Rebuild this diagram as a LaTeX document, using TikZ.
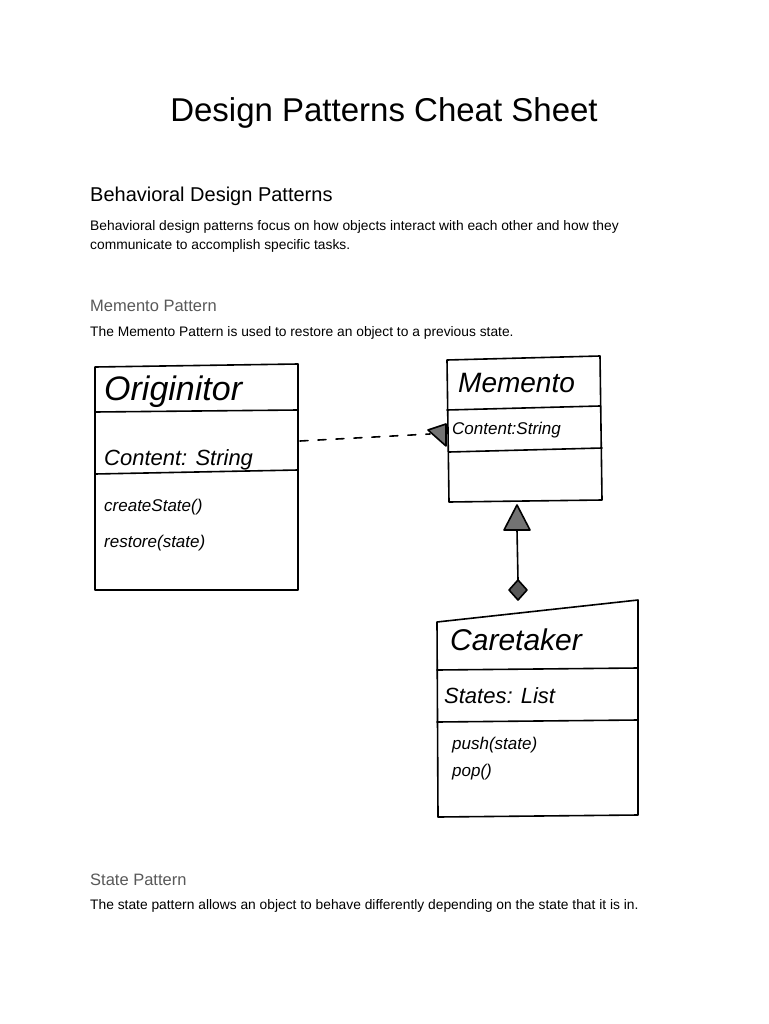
\documentclass[tikz,border=0pt]{standalone}
\usepackage{fontspec}
\setmainfont{Liberation Sans}
\usetikzlibrary{arrows.meta}
\begin{document}
\begin{tikzpicture}[x=1pt,y=-1pt,
  hand/.style={line width=1.6pt,line cap=round,line join=round},
  hw/.style={anchor=west,font=\fontsize{22}{24}\selectfont\itshape,inner sep=0pt},
  hws/.style={anchor=west,font=\fontsize{17}{20}\selectfont\itshape,inner sep=0pt},
  body/.style={anchor=west,font=\fontsize{13.8}{16}\selectfont,inner sep=0pt}]
\useasboundingbox[fill=white] (0,0) rectangle (768,1024);
\node[font=\fontsize{33}{38}\selectfont] (title) at (384,113) {Design Patterns Cheat Sheet};
\node[anchor=west,font=\fontsize{20}{24}\selectfont,inner sep=0pt] (h1) at (90,196) {Behavioral Design Patterns};
\node[body] (p1) at (90,227) {Behavioral design patterns focus on how objects interact with each other and how they};
\node[body] (p2) at (90,246) {communicate to accomplish specific tasks.};
\node[anchor=west,font=\fontsize{16.5}{20}\selectfont,text=black!65,inner sep=0pt] (h2) at (90,306) {Memento Pattern};
\node[body] (p3) at (90,333) {The Memento Pattern is used to restore an object to a previous state.};
% Originator
\draw[hand] (95,367) -- (298,364) -- (298,590) -- (95,590) -- cycle;
\draw[hand] (95,412) -- (298,410);
\draw[hand] (95,474) -- (298,470);
\node[hw,font=\fontsize{34}{36}\selectfont\itshape] (orig) at (104,392) {Originitor};
\node[hw] (oc) at (104,460) {Content: String};
\node[hws] (o1) at (104,507) {createState()};
\node[hws] (o2) at (104,543) {restore(state)};
% Memento
\draw[hand] (447,360) -- (600,356) -- (602,500) -- (449,502) -- cycle;
\draw[hand] (447,410) -- (600,406);
\draw[hand] (449,452) -- (602,448);
\node[hw,font=\fontsize{28}{30}\selectfont\itshape] (mem) at (458,383) {Memento};
\node[hws] (mc) at (452,430) {Content:String};
% Caretaker
\draw[hand] (437,622) -- (638,600) -- (638,815) -- (438,817) -- cycle;
\draw[hand] (437,670) -- (638,668);
\draw[hand] (437,722) -- (638,720);
\node[hw,font=\fontsize{30}{32}\selectfont\itshape] (care) at (450,640) {Caretaker};
\node[hw] (cs) at (444,696) {States: List};
\node[hws] (c1) at (452,745) {push(state)};
\node[hws] (c2) at (452,772) {pop()};
% connectors
\coordinate (dA) at (300,441);
\coordinate (dB) at (430,434);
\draw[hand,dashed,dash pattern=on 8pt off 10pt] (dA) -- (dB);
\draw[hand,fill=black!55] (428,430) -- (446,424) -- (446,446) -- cycle;
\coordinate (tTop) at (517,505);
\coordinate (tBot) at (517,530);
\draw[hand,fill=black!55] (tTop) -- (530,530) -- (504,530) -- cycle;
\coordinate (dTop) at (518,580);
\draw[hand] (tBot) -- (dTop);
\draw[hand,fill=black!65] (dTop) -- (527,590) -- (518,600) -- (509,590) -- cycle;
% State
\node[anchor=west,font=\fontsize{16.5}{20}\selectfont,text=black!65,inner sep=0pt] (h3) at (90,880) {State Pattern};
\node[body] (p4) at (90,906) {The state pattern allows an object to behave differently depending on the state that it is in.};
\end{tikzpicture}
\end{document}
